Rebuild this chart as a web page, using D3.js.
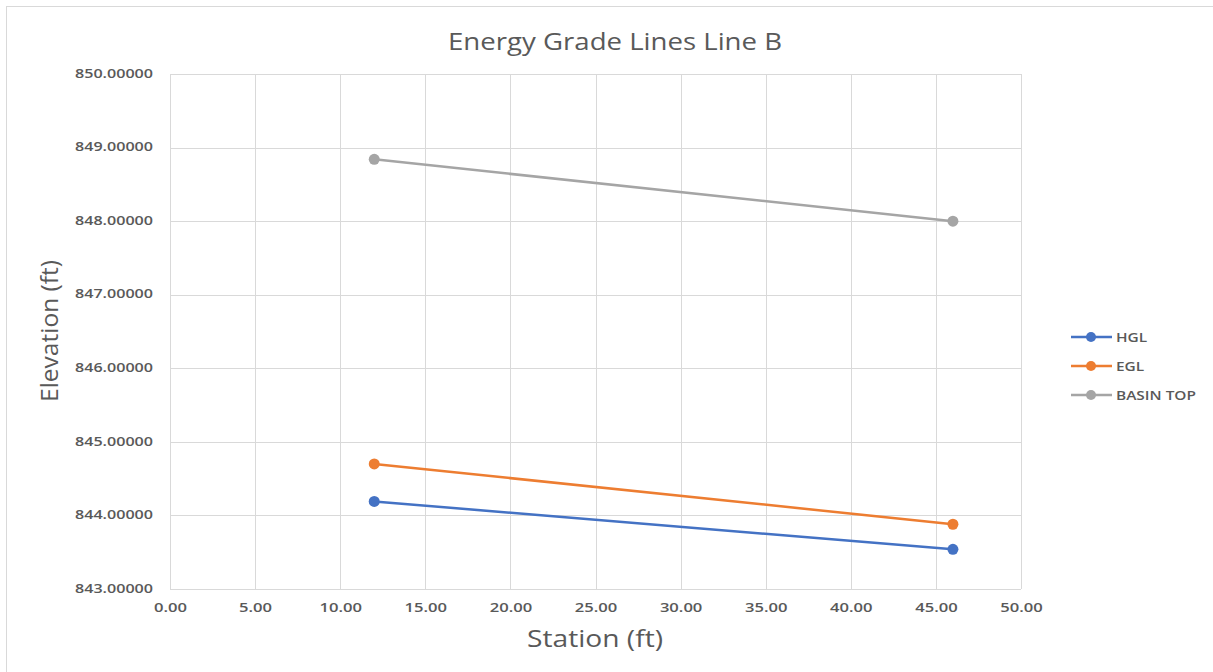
<!DOCTYPE html>
<html><head><meta charset="utf-8">
<script src="https://cdn.jsdelivr.net/npm/d3@7"></script>
<style>body{margin:0;background:#fff;}svg{display:block;}</style>
</head><body>
<svg id="c" width="1213" height="672"></svg>
<script>
const stations = [12, 46];
const hgl = [844.19, 843.54];
const egl = [844.70, 843.88];
const basinTop = [848.84, 848.00];
const seriesNames = ["HGL", "EGL", "BASIN TOP"];
const seriesColors = ["#4472C4", "#ED7D31", "#A5A5A5"];
const xTicks = [0,5,10,15,20,25,30,35,40,45,50];
const yTicks = [843,844,845,846,847,848,849,850];

const FONT = "'Open Sans', sans-serif";
const svg = d3.select("#c");
svg.append("rect").attr("x",6.5).attr("y",6.5).attr("width",1220).attr("height",680)
  .attr("fill","#fff").attr("stroke","#d9d9d9").attr("stroke-width",1);

const x = d3.scaleLinear().domain([0,50]).range([170,1021]);
const y = d3.scaleLinear().domain([843,850]).range([589,74]);

// horizontal stretch helper: scale measured length by factor
function stretch(sel, factor){
  sel.each(function(){
    const L = this.getComputedTextLength();
    d3.select(this).attr("textLength", L*factor).attr("lengthAdjust","spacingAndGlyphs");
  });
}

const g = svg.append("g");
g.selectAll(".vg").data(xTicks).join("line")
  .attr("x1",d=>Math.round(x(d))+0.5).attr("x2",d=>Math.round(x(d))+0.5)
  .attr("y1",y(850)).attr("y2",y(843)).attr("stroke","#d9d9d9").attr("stroke-width",1);
g.selectAll(".hg").data(yTicks).join("line")
  .attr("x1",x(0)).attr("x2",x(50))
  .attr("y1",d=>Math.round(y(d))+0.5).attr("y2",d=>Math.round(y(d))+0.5)
  .attr("stroke","#d9d9d9").attr("stroke-width",1);

const xAxis = d3.axisBottom(x).tickValues(xTicks).tickFormat(d3.format(".2f")).tickSize(0).tickPadding(14);
const yAxis = d3.axisLeft(y).tickValues(yTicks).tickFormat(d3.format(".5f")).tickSize(0).tickPadding(17);
const gx = svg.append("g").attr("transform",`translate(0,${y(843)})`).call(xAxis);
const gy = svg.append("g").attr("transform",`translate(${x(0)},0)`).call(yAxis);
[gx,gy].forEach(a=>{
  a.select(".domain").remove();
  a.selectAll("text").attr("font-family",FONT).attr("font-size","13px")
   .attr("font-weight","600").attr("fill","#595959");
});
gy.selectAll("text").attr("dy","0.25em");
// target widths from reference: "850.00000" ~78px, "0.00" ~33px
(function(){
  const ty = gy.select("text").node().getComputedTextLength();
  stretch(gy.selectAll("text"), 78/ty);
  const tx = gx.select("text").node().getComputedTextLength();
  stretch(gx.selectAll("text"), 33/tx);
})();

const data = [hgl, egl, basinTop];
const line = d3.line().x((d,i)=>x(stations[i])).y(d=>y(d));
data.forEach((s,k)=>{
  svg.append("path").datum(s).attr("d",line).attr("fill","none")
    .attr("stroke",seriesColors[k]).attr("stroke-width",2.5);
  svg.selectAll(".m"+k).data(s).join("circle")
    .attr("cx",(d,i)=>x(stations[i])).attr("cy",d=>y(d)).attr("r",5.5)
    .attr("fill",seriesColors[k]);
});

function fitText(sel, target){
  const L = sel.node().getComputedTextLength();
  sel.attr("textLength", target).attr("lengthAdjust","spacingAndGlyphs");
}
const title = svg.append("text").attr("x",615).attr("y",50).attr("text-anchor","middle")
  .attr("font-family",FONT).attr("font-size","24px").attr("fill","#595959")
  .text("Energy Grade Lines Line B");
fitText(title, 334);
const xt = svg.append("text").attr("x",595).attr("y",647).attr("text-anchor","middle")
  .attr("font-family",FONT).attr("font-size","24px").attr("fill","#595959")
  .text("Station (ft)");
fitText(xt, 136);
const yt = svg.append("text").attr("transform","translate(58,331) rotate(-90)").attr("text-anchor","middle")
  .attr("font-family",FONT).attr("font-size","24px").attr("fill","#595959")
  .text("Elevation (ft)");
fitText(yt, 142);

const leg = svg.append("g");
const legTexts = [];
seriesNames.forEach((n,k)=>{
  const ly = 337 + k*29;
  leg.append("line").attr("x1",1071).attr("x2",1112).attr("y1",ly).attr("y2",ly)
    .attr("stroke",seriesColors[k]).attr("stroke-width",2.5);
  leg.append("circle").attr("cx",1091).attr("cy",ly).attr("r",5).attr("fill",seriesColors[k]);
  legTexts.push(leg.append("text").attr("x",1116).attr("y",ly+5).attr("font-family",FONT)
    .attr("font-size","13px").attr("font-weight","600").attr("fill","#595959").text(n));
});
(function(){
  const L = legTexts[2].node().getComputedTextLength();
  const f = 80/L;
  legTexts.forEach(t=>stretch(t,f));
})();
</script>
</body></html>
